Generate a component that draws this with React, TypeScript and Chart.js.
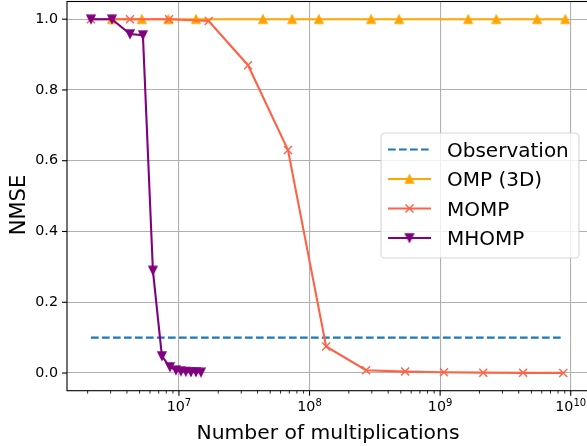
import React, { useEffect, useRef } from 'react';
import { Chart, registerables } from 'chart.js';

Chart.register(...registerables);

// ---- data ----
const obsX = [2.12e6, 8.77e9];
const obsY = [0.1, 0.1];

const ompX = [3.07e6, 5.2e6, 8.3e6, 1.35e7, 4.4e7, 7.35e7, 1.18e8, 2.96e8, 4.85e8, 1.64e9, 2.69e9, 5.53e9, 9.08e9];
const ompY = [1.0, 1.0, 1.0, 1.0, 1.0, 1.0, 1.0, 1.0, 1.0, 1.0, 1.0, 1.0, 1.0];

const mompX = [2.12e6, 4.22e6, 8.4e6, 1.69e7, 3.38e7, 6.84e7, 1.34e8, 2.71e8, 5.4e8, 1.07e9, 2.14e9, 4.32e9, 8.77e9];
const mompY = [1.0, 1.0, 1.0, 0.995, 0.87, 0.63, 0.075, 0.008, 0.004, 0.002, 0.001, 0.0005, 0.0003];

const mhompX = [2.12e6, 3.07e6, 4.22e6, 5.3e6, 6.32e6, 7.41e6, 8.53e6, 9.49e6, 1.036e7, 1.13e7, 1.236e7, 1.35e7, 1.475e7];
const mhompY = [1.0, 1.0, 0.958, 0.955, 0.29, 0.048, 0.017, 0.008, 0.005, 0.004, 0.003, 0.003, 0.002];

const seriesLabels = ['Observation', 'OMP (3D)', 'MOMP', 'MHOMP'];
const yTicks = [0, 0.2, 0.4, 0.6, 0.8, 1.0];
const xTickExponents = [7, 8, 9, 10];
const xTitle = 'Number of multiplications';
const yTitle = 'NMSE';

const X_MIN = 1.39e6;
const X_MAX = 1.38e10;
const Y_MIN = -0.05;
const Y_MAX = 1.05;

const COLORS = ['#1f77b4', '#ffa500', '#ff6347', '#800080'];
const FONT = "'DejaVu Sans', sans-serif";
const W = 600;
const H = 446;

function triangleImage(kind: 'up' | 'down', color: string, size: number, lw: number) {
  const c = document.createElement('canvas');
  const dim = 14;
  c.width = dim;
  c.height = dim;
  const g = c.getContext('2d')!;
  const cx = dim / 2, cy = dim / 2, h = size / 2;
  g.beginPath();
  if (kind === 'up') {
    g.moveTo(cx, cy - h);
    g.lineTo(cx - h, cy + h);
    g.lineTo(cx + h, cy + h);
  } else {
    g.moveTo(cx, cy + h);
    g.lineTo(cx - h, cy - h);
    g.lineTo(cx + h, cy - h);
  }
  g.closePath();
  g.fillStyle = color;
  g.fill();
  g.lineWidth = lw;
  g.strokeStyle = color;
  g.stroke();
  return c;
}

function line(ctx: CanvasRenderingContext2D, x1: number, y1: number, x2: number, y2: number) {
  ctx.beginPath();
  ctx.moveTo(x1, y1);
  ctx.lineTo(x2, y2);
  ctx.stroke();
}

export default function App() {
  const ref = useRef<HTMLCanvasElement | null>(null);

  useEffect(() => {
    const canvas = ref.current;
    if (!canvas) return;
    const upImg = triangleImage('up', COLORS[1], 8, 1.4);
    const downImg = triangleImage('down', COLORS[3], 8, 1.4);

    const decor = {
      id: 'decor',
      afterDraw(chart: any) {
        const ctx: CanvasRenderingContext2D = chart.ctx;
        const a = chart.chartArea;
        const xs = chart.scales.x;
        const ys = chart.scales.y;
        ctx.save();
        ctx.strokeStyle = '#000';
        ctx.fillStyle = '#000';
        // spines
        ctx.lineWidth = 1.1;
        ctx.strokeRect(a.left, a.top, a.right - a.left, a.bottom - a.top);
        // y tick marks
        yTicks.forEach((v) => {
          const p = ys.getPixelForValue(v);
          line(ctx, a.left - 5, p, a.left, p);
        });
        // x major tick marks
        xTickExponents.forEach((e) => {
          const p = xs.getPixelForValue(Math.pow(10, e));
          line(ctx, p, a.bottom, p, a.bottom + 5);
        });
        // x minor tick marks
        ctx.lineWidth = 0.85;
        for (let n = 6; n <= 10; n++) {
          for (let k = 2; k <= 9; k++) {
            const v = k * Math.pow(10, n);
            if (v > X_MIN && v < X_MAX) {
              const p = xs.getPixelForValue(v);
              line(ctx, p, a.bottom, p, a.bottom + 2.9);
            }
          }
        }
        // x tick labels 10^n
        ctx.textBaseline = 'alphabetic';
        ctx.textAlign = 'left';
        xTickExponents.forEach((e) => {
          const p = xs.getPixelForValue(Math.pow(10, e));
          ctx.font = `14.3px ${FONT}`;
          const wb = ctx.measureText('10').width;
          ctx.font = `10px ${FONT}`;
          const we = ctx.measureText(String(e)).width;
          const start = p - (wb + we) / 2;
          ctx.font = `14.3px ${FONT}`;
          ctx.fillText('10', start, a.bottom + 20.5);
          ctx.font = `10px ${FONT}`;
          ctx.fillText(String(e), start + wb, a.bottom + 15.5);
        });
        // axis titles
        ctx.font = `20.3px ${FONT}`;
        ctx.textAlign = 'center';
        ctx.fillText(xTitle, (a.left + a.right) / 2, 439);
        ctx.save();
        ctx.translate(25, 205);
        ctx.rotate(-Math.PI / 2);
        ctx.font = `21px ${FONT}`;
        ctx.fillText(yTitle, 0, 0);
        ctx.restore();

        // legend
        const bx = 381, by = 133, bw = 198, bh = 125, r = 4;
        ctx.beginPath();
        ctx.moveTo(bx + r, by);
        ctx.arcTo(bx + bw, by, bx + bw, by + bh, r);
        ctx.arcTo(bx + bw, by + bh, bx, by + bh, r);
        ctx.arcTo(bx, by + bh, bx, by, r);
        ctx.arcTo(bx, by, bx + bw, by, r);
        ctx.closePath();
        ctx.fillStyle = 'rgba(255,255,255,0.8)';
        ctx.fill();
        ctx.strokeStyle = 'rgba(204,204,204,0.8)';
        ctx.lineWidth = 1.1;
        ctx.stroke();

        const rowY = [149.5, 179, 208.5, 238];
        const hx1 = 388, hx2 = 431, hmx = (hx1 + hx2) / 2;
        seriesLabels.forEach((lab, i) => {
          const y = rowY[i];
          ctx.strokeStyle = COLORS[i];
          ctx.lineWidth = 2.1;
          if (i === 0) ctx.setLineDash([7.7, 3.3]);
          else ctx.setLineDash([]);
          line(ctx, hx1, y, hx2, y);
          ctx.setLineDash([]);
          if (i === 1) ctx.drawImage(upImg, hmx - 7, y - 7);
          if (i === 3) ctx.drawImage(downImg, hmx - 7, y - 7);
          if (i === 2) {
            ctx.lineWidth = 1.4;
            line(ctx, hmx - 4, y - 4, hmx + 4, y + 4);
            line(ctx, hmx - 4, y + 4, hmx + 4, y - 4);
          }
          ctx.fillStyle = '#000';
          ctx.font = `20px ${FONT}`;
          ctx.textAlign = 'left';
          ctx.textBaseline = 'alphabetic';
          ctx.fillText(lab, 447, y + 7.3);
        });
        ctx.restore();
      },
    };

    const chart = new Chart(canvas, {
      type: 'line',
      data: {
        datasets: [
          {
            label: seriesLabels[0],
            data: obsX.map((x, i) => ({ x, y: obsY[i] })),
            borderColor: COLORS[0],
            borderWidth: 2.1,
            borderDash: [7.7, 3.3],
            pointRadius: 0,
            order: 3,
          },
          {
            label: seriesLabels[1],
            data: ompX.map((x, i) => ({ x, y: ompY[i] })),
            borderColor: COLORS[1],
            backgroundColor: COLORS[1],
            borderWidth: 2.1,
            pointStyle: upImg as any,
            pointRadius: 5,
            order: 2,
          },
          {
            label: seriesLabels[2],
            data: mompX.map((x, i) => ({ x, y: mompY[i] })),
            borderColor: COLORS[2],
            backgroundColor: COLORS[2],
            borderWidth: 2.1,
            pointStyle: 'crossRot',
            pointRadius: 5.66,
            pointBorderWidth: 1.4,
            order: 1,
          },
          {
            label: seriesLabels[3],
            data: mhompX.map((x, i) => ({ x, y: mhompY[i] })),
            borderColor: COLORS[3],
            backgroundColor: COLORS[3],
            borderWidth: 2.1,
            pointStyle: downImg as any,
            pointRadius: 5,
            order: 0,
          },
        ],
      },
      options: {
        animation: false,
        responsive: false,
        devicePixelRatio: 1,
        layout: { autoPadding: false, padding: { top: 1.5, right: W - 589, left: 0, bottom: 0 } },
        plugins: { legend: { display: false }, tooltip: { enabled: false } },
        elements: { line: { tension: 0 } },
        scales: {
          x: {
            type: 'logarithmic',
            min: X_MIN,
            max: X_MAX,
            afterBuildTicks: (s: any) => {
              s.ticks = xTickExponents.map((e) => ({ value: Math.pow(10, e) }));
            },
            afterFit: (s: any) => {
              s.height = H - 390.7;
              s.paddingLeft = 0;
              s.paddingRight = 0;
            },
            grid: { color: '#b0b0b0', lineWidth: 1.1, drawTicks: false },
            border: { display: false },
            ticks: { display: false },
          },
          y: {
            type: 'linear',
            min: Y_MIN,
            max: Y_MAX,
            afterBuildTicks: (s: any) => {
              s.ticks = yTicks.map((v) => ({ value: v }));
            },
            afterFit: (s: any) => {
              s.width = 67;
              s.paddingTop = 0;
              s.paddingBottom = 0;
            },
            grid: { color: '#b0b0b0', lineWidth: 1.1, drawTicks: false },
            border: { display: false },
            ticks: {
              color: '#000',
              padding: 9,
              font: { family: "'DejaVu Sans', sans-serif", size: 14.3 },
              callback: (v: any) => Number(v).toFixed(1),
            },
          },
        },
      },
      plugins: [decor],
    } as any);

    return () => chart.destroy();
  }, []);

  return (
    <div style={{ position: 'absolute', left: 0, top: 0, width: 587, height: H, overflow: 'hidden', background: '#fff' }}>
      <canvas ref={ref} width={W} height={H} style={{ width: W, height: H, display: 'block' }} />
    </div>
  );
}
